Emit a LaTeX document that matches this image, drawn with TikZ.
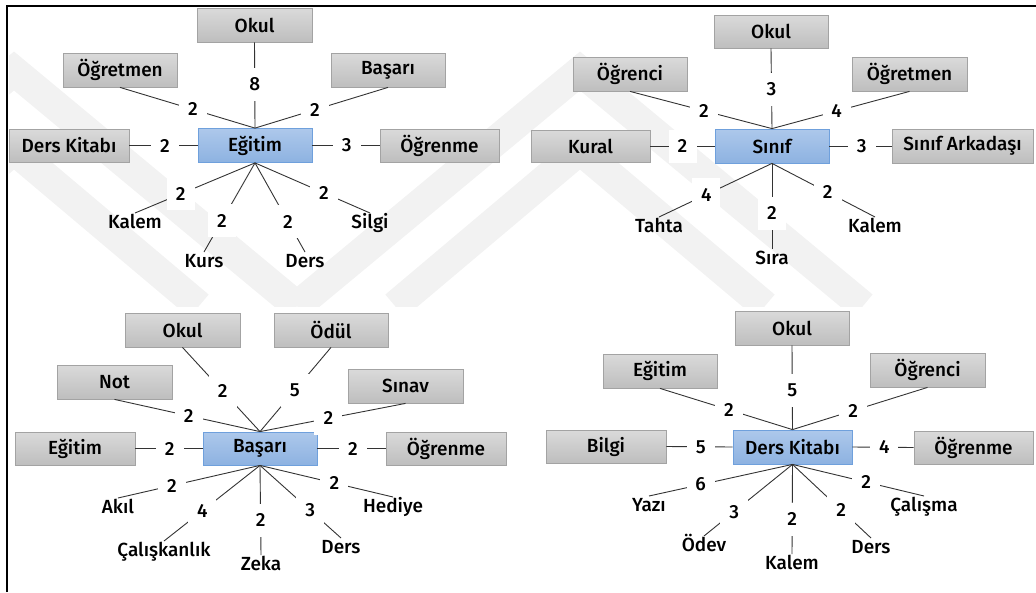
\documentclass[tikz,border=0pt]{standalone}
\usepackage{fontspec}
\setmainfont{Fira Sans Medium}
\newcommand\dfont{\fontsize{19}{22}\selectfont}
\definecolor{gtop}{HTML}{DADADA}
\definecolor{gbot}{HTML}{BEBEBE}
\definecolor{gbord}{HTML}{A3A3A3}
\definecolor{ctop}{HTML}{ADC8EB}
\definecolor{cbot}{HTML}{8DB2E1}
\definecolor{cbord}{HTML}{6FA0DC}
\definecolor{wmark}{HTML}{F2F2F2}
\tikzset{
  wm/.style={line width=30pt, draw=wmark, line cap=butt, line join=miter},
  gbox/.style={draw=gbord, line width=0.8pt, top color=gtop, bottom color=gbot,
    minimum width=114pt, minimum height=34pt, inner sep=0pt, font=\dfont},
  cbox/.style={draw=cbord, line width=0.8pt, top color=ctop, bottom color=cbot,
    minimum width=114pt, minimum height=34pt, inner sep=0pt, font=\dfont},
  leaf/.style={anchor=north, inner xsep=1pt, inner ysep=8pt,
    text height=0.68em, text depth=0.15em, font=\dfont},
  num/.style={fill=white, minimum width=28pt, minimum height=33pt, inner sep=0pt, font=\dfont},
  link/.style={line width=0.9pt, draw=black!80},
}
\begin{document}
\begin{tikzpicture}[x=1pt,y=-1pt]
\useasboundingbox (0,0) rectangle (1036,592);

% faint chevron watermark behind the upper half
\begin{scope}
  \clip (9,8) rectangle (1036,306);
  \draw[wm] (297,306) -- (580,71) -- (863,306);
  \draw[wm] (395,306) -- (580,150) -- (765,306);
  \draw[wm] (-269,306) -- (14,71) -- (297,306);
  \draw[wm] (-171,306) -- (14,150) -- (199,306);
\end{scope}

% frame
\draw[line width=2.3pt] (7,592) -- (7,6) -- (1036,6);

% ---------- Eğitim ----------
\node[cbox] (e) at (255,145.5) {Eğitim};
\node[gbox, minimum width=115pt] (eokul) at (254.5,25) {Okul};
\node[gbox] (eogr) at (120,70) {Öğretmen};
\node[gbox] (ebas) at (388,70) {Başarı};
\node[gbox, minimum width=120pt, minimum height=33pt] (edk) at (69,145.5) {Ders Kitabı};
\node[gbox, minimum width=119pt, minimum height=33pt] (eogn) at (439.5,145.5) {Öğrenme};
\node[leaf] (ekal) at (135,213) {Kalem};
\node[leaf] (ekur) at (204,252) {Kurs};
\node[leaf] (eder) at (305,252) {Ders};
\node[leaf] (esil) at (370,213) {Silgi};
\draw[link] (e.north) -- node[num,pos=0.51]{8} (eokul.south);
\draw[link] (e.north) -- node[num,pos=0.46]{2} (eogr.south);
\draw[link] (e.north) -- node[num,pos=0.45]{2} (ebas.south);
\draw[link] (e.west) -- node[num,pos=0.48]{2} (edk.east);
\draw[link] (e.east) -- node[num,pos=0.51]{3} (eogn.west);
\draw[link] (e.south) -- node[num,pos=0.62]{2} (ekal.north);
\draw[link] (e.south) -- node[num,pos=0.65]{2} (ekur.north);
\draw[link] (e.south) -- node[num,pos=0.66]{2} (eder.north);
\draw[link] (e.south) -- node[num,pos=0.60]{2} (esil.north);

% ---------- Sınıf ----------
\node[cbox] (s) at (772,146) {Sınıf};
\node[gbox, minimum height=33pt] (sokul) at (771,31.5) {Okul};
\node[gbox] (sogc) at (630,74) {Öğrenci};
\node[gbox, minimum width=115pt] (sogr) at (909.5,74) {Öğretmen};
\node[gbox, minimum width=119pt, minimum height=32pt] (skur) at (590.5,146) {Kural};
\node[gbox, minimum width=141pt] (sark) at (962.5,146) {Sınıf Arkadaşı};
\node[leaf] (stah) at (659,217) {Tahta};
\node[leaf] (ssir) at (772,249) {Sıra};
\node[leaf] (skal) at (875,217) {Kalem};
\draw[link] (s.north) -- node[num,pos=0.49]{3} (sokul.south);
\draw[link] (s.north) -- node[num,pos=0.48]{2} (sogc.south);
\draw[link] (s.north) -- node[num,pos=0.47]{4} (sogr.south);
\draw[link] (s.west) -- node[num,pos=0.50]{2} (skur.east);
\draw[link] (s.east) -- node[num,pos=0.52]{3} (sark.west);
\draw[link] (s.south) -- node[num,pos=0.58]{4} (stah.north);
\draw[link] (s.south) -- node[num,pos=0.58]{2} (ssir.north);
\draw[link] (s.south) -- node[num,pos=0.54]{2} (skal.north);

% ---------- Başarı ----------
\node[cbox, minimum height=33pt] (b) at (260,448.5) {Başarı};
\node[gbox, minimum width=115pt] (bokul) at (182.5,330) {Okul};
\node[gbox] (bodu) at (331,330) {Ödül};
\node[gbox, minimum width=115pt] (bnot) at (114.5,382) {Not};
\node[gbox, minimum width=115pt] (bsin) at (405.5,386) {Sınav};
\node[gbox, minimum width=120pt, minimum height=33pt] (begi) at (75,448.5) {Eğitim};
\node[gbox, minimum width=120pt, minimum height=33pt] (bogn) at (446,448.5) {Öğrenme};
\node[leaf] (bak) at (118,498) {Akıl};
\node[leaf] (bcal) at (164,541) {Çalışkanlık};
\node[leaf] (bzek) at (261,555) {Zeka};
\node[leaf] (bder) at (341,538) {Ders};
\node[leaf] (bhed) at (393,497) {Hediye};
\draw[link] (b.north) -- node[num,pos=0.48]{2} (bokul.south);
\draw[link] (b.north) -- node[num,pos=0.49]{5} (bodu.south);
\draw[link] (b.north) -- node[num,pos=0.49]{2} (bnot.south);
\draw[link] (b.north) -- node[num,pos=0.47]{2} (bsin.south);
\draw[link] (b.west) -- node[num,pos=0.49]{2} (begi.east);
\draw[link] (b.east) -- node[num,pos=0.52]{2} (bogn.west);
\draw[link] (b.south) -- node[num,pos=0.62]{2} (bak.north);
\draw[link] (b.south) -- node[num,pos=0.60]{4} (bcal.north);
\draw[link] (b.south) -- node[num,pos=0.61]{2} (bzek.north);
\draw[link] (b.south) -- node[num,pos=0.62]{3} (bder.north);
\draw[link] (b.south) -- node[num,pos=0.56]{2} (bhed.north);

% ---------- Ders Kitabı ----------
\node[cbox, minimum width=119pt] (d) at (792.5,447) {Ders Kitabı};
\node[gbox] (dokul) at (792,328) {Okul};
\node[gbox] (degi) at (660,371) {Eğitim};
\node[gbox, minimum width=115pt] (dogc) at (927.5,370) {Öğrenci};
\node[gbox, minimum width=120pt, minimum height=33pt] (dbil) at (606,446.5) {Bilgi};
\node[gbox, minimum width=119pt, minimum height=33pt] (dogn) at (973.5,447.5) {Öğrenme};
\node[leaf] (dyaz) at (649,496) {Yazı};
\node[leaf] (dode) at (704,536) {Ödev};
\node[leaf] (dkal) at (792,554) {Kalem};
\node[leaf] (dder) at (871,538) {Ders};
\node[leaf] (dcal) at (924,496) {Çalışma};
\draw[link] (d.north) -- node[num,pos=0.47]{5} (dokul.south);
\draw[link] (d.north) -- node[num,pos=0.48]{2} (degi.south);
\draw[link] (d.north) -- node[num,pos=0.45]{2} (dogc.south);
\draw[link] (d.west) -- node[num,pos=0.48]{5} (dbil.east);
\draw[link] (d.east) -- node[num,pos=0.52]{4} (dogn.west);
\draw[link] (d.south) -- node[num,pos=0.64]{6} (dyaz.north);
\draw[link] (d.south) -- node[num,pos=0.66]{3} (dode.north);
\draw[link] (d.south) -- node[num,pos=0.61]{2} (dkal.north);
\draw[link] (d.south) -- node[num,pos=0.62]{2} (dder.north);
\draw[link] (d.south) -- node[num,pos=0.56]{2} (dcal.north);
\end{tikzpicture}
\end{document}
